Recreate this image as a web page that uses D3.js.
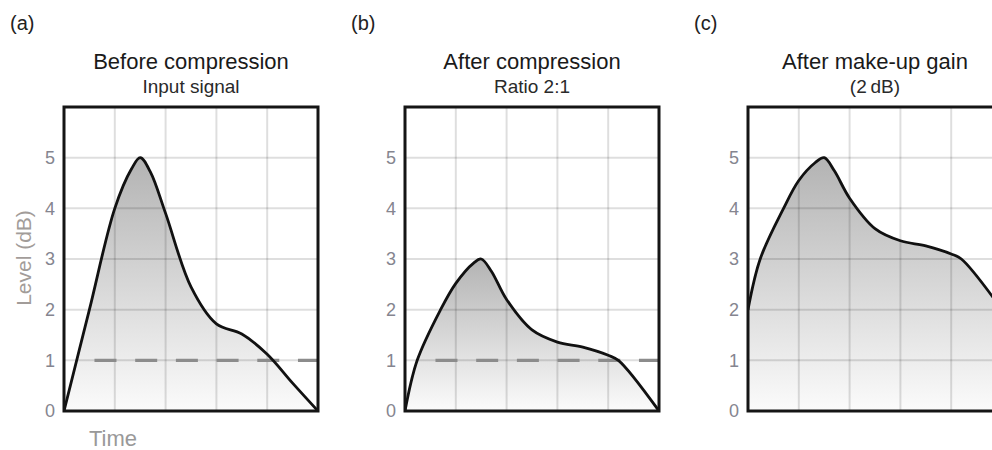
<!DOCTYPE html>
<html>
<head>
<meta charset="utf-8">
<script src="https://cdn.jsdelivr.net/npm/d3@7"></script>
<style>
  html, body { margin: 0; padding: 0; background: #fff; }
  svg { display: block; }
  svg text { font-family: "Liberation Sans", Arial, Helvetica, sans-serif; }
</style>
</head>
<body>
<svg id="chart" width="992" height="450"></svg>
<script>
// panel texts
const panelTags = ["(a)", "(b)", "(c)"];
const titles = ["Before compression", "After compression", "After make-up gain"];
const subtitles = ["Input signal", "Ratio 2:1", "(2\u2009dB)"];

// level ticks (dB) and time grid
const levelTicks = [0, 1, 2, 3, 4, 5];
const timeGrid = [1, 2, 3, 4];

// signal envelopes: [time, level dB]
const inputSignal = [[0, 0], [0.5, 2], [1, 4], [1.33, 4.78], [1.5, 5], [1.7, 4.72], [2, 3.9],
  [2.5, 2.45], [3, 1.72], [3.5, 1.52], [4, 1.12], [4.5, 0.55], [5, 0]];
const compressed = [[0, 0], [0.24, 1], [0.7, 2], [1, 2.52], [1.35, 2.92], [1.5, 3], [1.7, 2.76],
  [2, 2.2], [2.5, 1.6], [3, 1.36], [3.5, 1.26], [4, 1.1], [4.2, 1], [5, 0]];
const madeUp = [[0, 2], [0.24, 3], [0.7, 4], [1, 4.55], [1.32, 4.9], [1.5, 5], [1.7, 4.74],
  [2, 4.2], [2.5, 3.6], [3, 3.36], [3.5, 3.26], [4, 3.1], [4.2, 3], [5, 2]];

// threshold (1 dB), dashed, only in (a) and (b)
const threshold = [1, 1, null];
const thresholdStart = 0.6;

const series = [inputSignal, compressed, madeUp];

const svg = d3.select("#chart");
const frameW = 254, frameH = 304, frameTop = 107;
const frameLeft = [64, 405, 748];

const defs = svg.append("defs");
const grad = defs.append("linearGradient")
  .attr("id", "fillGrad")
  .attr("x1", 0).attr("y1", 0).attr("x2", 0).attr("y2", 1);
grad.append("stop").attr("offset", "0%").attr("stop-color", "#b3b3b3");
grad.append("stop").attr("offset", "100%").attr("stop-color", "#fbfbfb");

const x = d3.scaleLinear().domain([0, 5]).range([0, frameW]);
const y = d3.scaleLinear().domain([0, 6]).range([frameH, 0]);

const curve = d3.curveCatmullRom.alpha(0.5);

series.forEach((data, i) => {
  const g = svg.append("g").attr("transform", `translate(${frameLeft[i]},${frameTop})`);
  const cx = frameW / 2;

  // labels above
  svg.append("text")
    .attr("x", frameLeft[i] - 54).attr("y", 30)
    .attr("font-size", 20).attr("fill", "#222")
    .text(panelTags[i]);
  g.append("text").attr("x", cx).attr("y", -38)
    .attr("text-anchor", "middle").attr("font-size", 22).attr("fill", "#1a1a1a")
    .text(titles[i]);
  g.append("text").attr("x", cx).attr("y", -14)
    .attr("text-anchor", "middle").attr("font-size", 19).attr("fill", "#2a2a2a")
    .text(subtitles[i]);

  // clip to the frame
  g.append("clipPath").attr("id", "clip" + i)
    .append("rect").attr("width", frameW).attr("height", frameH);
  const inner = g.append("g").attr("clip-path", `url(#clip${i})`);

  const area = d3.area()
    .x(d => x(d[0])).y0(y(0)).y1(d => y(d[1]))
    .curve(curve);
  const line = d3.line()
    .x(d => x(d[0])).y(d => y(d[1]))
    .curve(curve);

  inner.append("path").datum(data)
    .attr("d", area).attr("fill", "url(#fillGrad)");

  // grid on top of the fill
  inner.selectAll(".vg").data(timeGrid).enter().append("line")
    .attr("x1", d => x(d)).attr("x2", d => x(d))
    .attr("y1", 0).attr("y2", frameH)
    .attr("stroke", "rgba(0,0,0,0.13)").attr("stroke-width", 2);
  inner.selectAll(".hg").data(levelTicks.filter(d => d > 0)).enter().append("line")
    .attr("x1", 0).attr("x2", frameW)
    .attr("y1", d => y(d)).attr("y2", d => y(d))
    .attr("stroke", "rgba(0,0,0,0.13)").attr("stroke-width", 2);

  if (threshold[i] !== null) {
    inner.append("line")
      .attr("x1", x(thresholdStart)).attr("x2", x(5))
      .attr("y1", y(threshold[i])).attr("y2", y(threshold[i]))
      .attr("stroke", "#8c8c8c").attr("stroke-width", 3.2)
      .attr("stroke-dasharray", "22,18.7");
  }

  inner.append("path").datum(data)
    .attr("d", line).attr("fill", "none")
    .attr("stroke", "#111").attr("stroke-width", 2.8)
    .attr("stroke-linejoin", "round");

  g.append("rect")
    .attr("width", frameW).attr("height", frameH)
    .attr("fill", "none").attr("stroke", "#151515").attr("stroke-width", 3);

  // y axis labels
  const axis = d3.axisLeft(y).tickValues(levelTicks).tickFormat(d3.format("d"))
    .tickSize(0).tickPadding(9);
  const ag = g.append("g").call(axis);
  ag.select(".domain").remove();
  ag.selectAll("text")
    .attr("font-size", 18).attr("fill", "#85858f")
    .attr("font-family", "'Liberation Sans', Arial, sans-serif");
});

// axis titles
svg.append("text")
  .attr("transform", `translate(31,258) rotate(-90)`)
  .attr("text-anchor", "middle").attr("font-size", 21).attr("fill", "#a29c99")
  .text("Level (dB)");
svg.append("text")
  .attr("x", 113).attr("y", 446)
  .attr("text-anchor", "middle").attr("font-size", 22).attr("fill", "#999")
  .text("Time");
</script>
</body>
</html>
